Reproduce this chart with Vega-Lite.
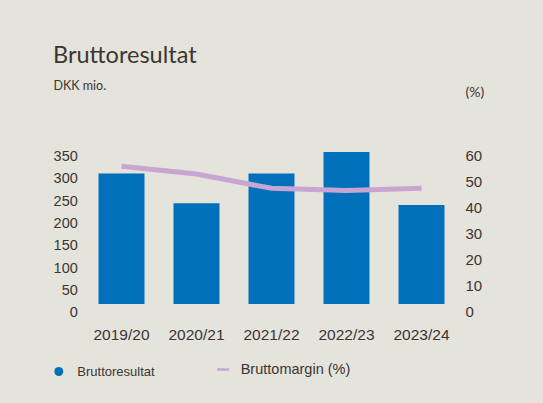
{
  "$schema": "https://vega.github.io/schema/vega-lite/v6.json",
  "width": 375,
  "height": 156,
  "autosize": {"type": "none"},
  "padding": {"left": 84, "top": 148, "right": 84, "bottom": 99},
  "background": "#e4e3dc",
  "config": {"view": {"stroke": null}, "font": "Liberation Sans"},
  "title": {
    "text": "Bruttoresultat",
    "anchor": "start",
    "frame": "group",
    "font": "Lato",
    "fontSize": 23.5,
    "fontWeight": "normal",
    "color": "#3b3632",
    "baseline": "alphabetic",
    "offset": 10,
    "dy": 17,
    "dx": -31
  },
  "data": {
    "values": [
      {"year": "2019/20", "brutto": 293, "margin": 53.0},
      {"year": "2020/21", "brutto": 226, "margin": 50.0},
      {"year": "2021/22", "brutto": 293, "margin": 44.5},
      {"year": "2022/23", "brutto": 341, "margin": 43.7},
      {"year": "2023/24", "brutto": 222, "margin": 44.5}
    ]
  },
  "layer": [
    {
      "mark": {"type": "bar"},
      "encoding": {
        "x": {
          "field": "year",
          "type": "nominal",
          "sort": null,
          "scale": {"paddingInner": 0.387, "paddingOuter": 0.1935},
          "axis": {
            "title": null,
            "labelAngle": 0,
            "labelFontSize": 15.5,
            "labelColor": "#3b3632",
            "labelPadding": 23,
            "labelBaseline": "top",
            "ticks": false,
            "domain": false,
            "grid": false
          }
        },
        "y": {
          "field": "brutto",
          "type": "quantitative",
          "scale": {"domain": [0, 350]},
          "axis": {
            "values": [0, 50, 100, 150, 200, 250, 300, 350],
            "title": "DKK mio.",
            "titleAngle": 0,
            "titleAlign": "left",
            "titleBaseline": "alphabetic",
            "titleX": -31,
            "titleY": -59,
            "titleFont": "Lato",
            "titleFontSize": 12.5,
            "titleFontWeight": "normal",
            "titleColor": "#3b3632",
            "labelFontSize": 14.5,
            "labelColor": "#3b3632",
            "labelPadding": 6.7,
            "labelOffset": 8.7,
            "ticks": false,
            "domain": false,
            "grid": false
          }
        },
        "color": {
          "datum": "Bruttoresultat",
          "scale": {"range": ["#0070ba"]},
          "legend": {
            "title": null,
            "orient": "none",
            "legendX": -31.7,
            "legendY": 217,
            "padding": 0,
            "symbolType": "circle",
            "symbolSize": 80,
            "symbolStrokeWidth": 0,
            "labelFontSize": 13,
            "labelColor": "#3b3632",
            "labelOffset": 12
          }
        }
      }
    },
    {
      "mark": {"type": "line", "strokeWidth": 5, "strokeCap": "butt"},
      "encoding": {
        "x": {"field": "year", "type": "nominal", "sort": null},
        "y": {
          "field": "margin",
          "type": "quantitative",
          "scale": {"domain": [0, 60]},
          "axis": {
            "orient": "right",
            "values": [0, 10, 20, 30, 40, 50, 60],
            "title": "(%)",
            "titleAngle": 0,
            "titleAlign": "left",
            "titleBaseline": "alphabetic",
            "titleX": 6,
            "titleY": -52,
            "titleFont": "Lato",
            "titleFontSize": 14,
            "titleFontWeight": "normal",
            "titleColor": "#3b3632",
            "labelFontSize": 15,
            "labelColor": "#3b3632",
            "labelPadding": 6,
            "labelOffset": 7.8,
            "ticks": false,
            "domain": false,
            "grid": false
          }
        },
        "stroke": {
          "datum": "Bruttomargin (%)",
          "scale": {"range": ["#c9a6d1"]},
          "legend": {
            "title": null,
            "orient": "none",
            "legendX": 131.7,
            "legendY": 214,
            "padding": 0,
            "symbolType": "stroke",
            "symbolSize": 144,
            "symbolStrokeWidth": 2.5,
            "labelFontSize": 14.5,
            "labelColor": "#3b3632",
            "labelOffset": 10
          }
        }
      }
    }
  ],
  "resolve": {"scale": {"y": "independent"}}
}
